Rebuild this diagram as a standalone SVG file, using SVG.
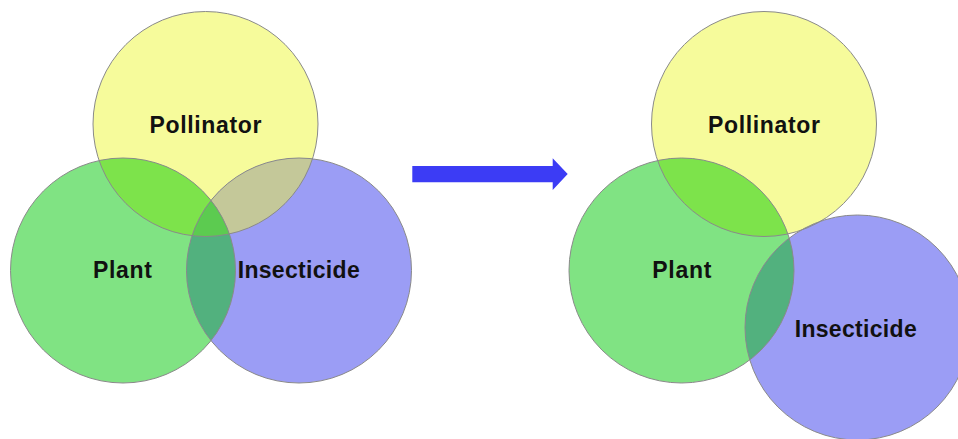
<svg xmlns="http://www.w3.org/2000/svg" width="958" height="439" viewBox="0 0 958 439">
<style>
.lbl{font-family:"Liberation Sans",Arial,sans-serif;font-weight:bold;font-size:23px;fill:#111;text-anchor:middle}
.ol{fill:none;stroke:#8a8a8a;stroke-width:1}
.pol{fill:#f6fb9b}.pla{fill:#80e383}.ins{fill:#9b9df5}
.pp{fill:#7de34b}.pi{fill:#c4c899}.li{fill:#52b17e}.tri{fill:#5ccb50}
</style>
<defs>
<clipPath id="cLPol"><circle cx="205.5" cy="124" r="112.5"/></clipPath>
<clipPath id="cLPla"><circle cx="123" cy="270.5" r="112.5"/></clipPath>
<clipPath id="cRPol"><circle cx="764" cy="124" r="112.5"/></clipPath>
<clipPath id="cRPla"><circle cx="681.5" cy="270.5" r="112.5"/></clipPath>
</defs>
<g id="left-diagram">
<g id="left-pollinator"><circle class="pol" cx="205.5" cy="124" r="112.5"/></g>
<g id="left-plant"><circle class="pla" cx="123" cy="270.5" r="112.5"/></g>
<g id="left-insecticide"><circle class="ins" cx="299" cy="270.5" r="112.5"/></g>
<circle class="pp" cx="123" cy="270.5" r="112.5" clip-path="url(#cLPol)"/>
<circle class="pi" cx="299" cy="270.5" r="112.5" clip-path="url(#cLPol)"/>
<circle class="li" cx="299" cy="270.5" r="112.5" clip-path="url(#cLPla)"/>
<g clip-path="url(#cLPol)"><circle class="tri" cx="299" cy="270.5" r="112.5" clip-path="url(#cLPla)"/></g>
<circle class="ol" cx="205.5" cy="124" r="112.5"/>
<circle class="ol" cx="123" cy="270.5" r="112.5"/>
<circle class="ol" cx="299" cy="270.5" r="112.5"/>
<text class="lbl" x="205.5" y="133" textLength="112">Pollinator</text>
<text class="lbl" x="122.5" y="278" textLength="59">Plant</text>
<text class="lbl" x="298.7" y="278" textLength="122">Insecticide</text>
</g>
<g id="connectors">
<polygon fill="#3c3cf5" points="412.3,166 552.7,166 552.7,158.3 567.7,174 552.7,190 552.7,182.3 412.3,182.3"/>
</g>
<g id="right-diagram">
<g id="right-pollinator"><circle class="pol" cx="764" cy="124" r="112.5"/></g>
<g id="right-plant"><circle class="pla" cx="681.5" cy="270.5" r="112.5"/></g>
<g id="right-insecticide"><circle class="ins" cx="857.5" cy="327.5" r="112.5"/></g>
<circle class="pp" cx="681.5" cy="270.5" r="112.5" clip-path="url(#cRPol)"/>
<circle class="li" cx="857.5" cy="327.5" r="112.5" clip-path="url(#cRPla)"/>
<circle class="ol" cx="764" cy="124" r="112.5"/>
<circle class="ol" cx="681.5" cy="270.5" r="112.5"/>
<circle class="ol" cx="857.5" cy="327.5" r="112.5"/>
<text class="lbl" x="764" y="133" textLength="112">Pollinator</text>
<text class="lbl" x="681.8" y="278" textLength="59">Plant</text>
<text class="lbl" x="855.7" y="337.3" textLength="122">Insecticide</text>
</g>
</svg>
